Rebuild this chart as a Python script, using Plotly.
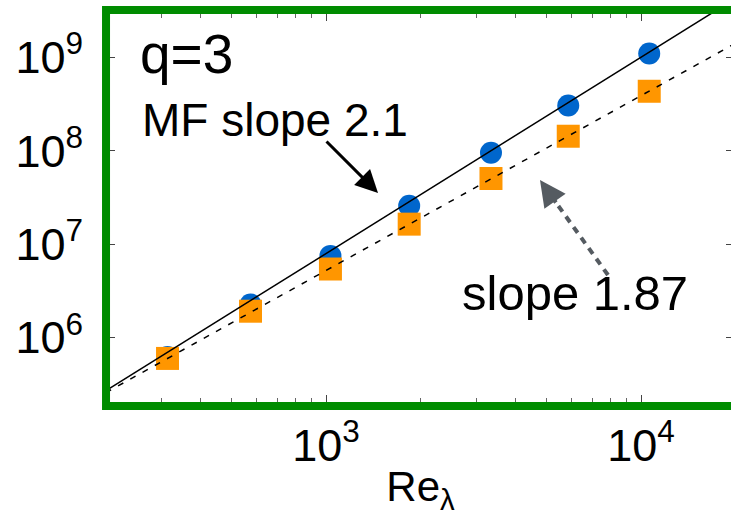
import plotly.graph_objects as go

# ---- data ----
re_lambda = [314, 576, 1033, 1837, 3340, 5875, 10620]
mf_values = [6.2e5, 2.27e6, 7.5e6, 2.58e7, 9.5e7, 3.05e8, 1.10e9]       # blue circles
dns_values = [6.0e5, 1.92e6, 5.43e6, 1.64e7, 5.05e7, 1.43e8, 4.33e8]    # orange squares

fit_x = [200, 20000]
mf_fit = [2.70e5, 4.29e9]      # MF slope 2.1
dns_fit = [2.58e5, 1.42e9]     # slope 1.87

x_tickvals = [1e3, 1e4]
x_ticktext = ["10<sup>3</sup>", "10<sup>4</sup>"]
y_tickvals = [1e6, 1e7, 1e8, 1e9]
y_ticktext = ["10<sup>6</sup>", "10<sup>7</sup>", "10<sup>8</sup>", "10<sup>9</sup>"]

FONT = "Liberation Sans, Arial, Helvetica, sans-serif"
GREEN = "#008C00"

fig = go.Figure()
fig.add_trace(go.Scatter(x=re_lambda, y=mf_values, mode="markers",
                         marker=dict(symbol="circle", size=22, color="#0066CC", line=dict(width=0)),
                         showlegend=False))
fig.add_trace(go.Scatter(x=re_lambda, y=dns_values, mode="markers",
                         marker=dict(symbol="square", size=23, color="#FF9600", line=dict(width=0)),
                         showlegend=False))
fig.add_trace(go.Scatter(x=fit_x, y=mf_fit, mode="lines",
                         line=dict(color="black", width=1.5), showlegend=False))
fig.add_trace(go.Scatter(x=fit_x, y=dns_fit, mode="lines",
                         line=dict(color="black", width=1.5, dash="6px,8px"), showlegend=False))

fig.update_layout(
    width=731, height=516,
    margin=dict(l=110, r=0, t=14, b=114),
    paper_bgcolor="white", plot_bgcolor="white",
    font=dict(family=FONT, color="black", size=45),
    xaxis=dict(type="log", range=[2.3143, 4.2857], showgrid=False, zeroline=False,
               showline=False, tickvals=x_tickvals, ticktext=x_ticktext, automargin=False,
               ticks="inside", ticklen=7, tickcolor="#444", tickwidth=1,
               mirror="ticks", ticklabelstandoff=13,
               minor=dict(ticks="inside", ticklen=4, dtick="D1", tickcolor="#666", showgrid=False),
               title=dict(text="Re<sub>λ</sub>", font=dict(size=42), standoff=4)),
    yaxis=dict(type="log", range=[5.312, 9.463], showgrid=False, zeroline=False,
               showline=False, tickvals=y_tickvals, ticktext=y_ticktext, automargin=False,
               ticks="inside", ticklen=5, tickcolor="#444", tickwidth=1,
               mirror="ticks", ticklabelstandoff=26),
)

fig.add_shape(type="rect", xref="paper", yref="paper",
              x0=-0.0064, x1=1.03, y0=-0.0103, y1=1.0103,
              line=dict(color=GREEN, width=8), fillcolor="rgba(0,0,0,0)", layer="above")

fig.add_annotation(xref="paper", yref="paper", x=0.1235, y=0.898, text="q=3",
                   showarrow=False, font=dict(size=55), xanchor="center", yanchor="middle")
fig.add_annotation(xref="paper", yref="paper", x=0.2657, y=0.7268, text="MF slope 2.1",
                   showarrow=False, font=dict(size=46), xanchor="center", yanchor="middle")
fig.add_annotation(xref="paper", yref="paper", x=0.7488, y=0.2809, text="slope 1.87",
                   showarrow=False, font=dict(size=49), xanchor="center", yanchor="middle")

# black arrow
fig.add_annotation(xref="paper", yref="paper", x=0.4316, y=0.5387, text="",
                   showarrow=True, ax=-53, ay=-53, arrowhead=2, arrowsize=1.5,
                   arrowwidth=3, arrowcolor="black", standoff=0)
# grey dashed arrow: dashed shaft + arrow head
fig.add_shape(type="line", xref="paper", yref="paper",
              x0=0.8019, y0=0.3273, x1=0.7198, y1=0.5103,
              line=dict(color="#555B61", width=4, dash="7px,6px"))
fig.add_annotation(xref="paper", yref="paper", x=0.6924, y=0.5722, text="",
                   showarrow=True, ax=17, ay=24, arrowhead=2, arrowsize=1.3,
                   arrowwidth=4, arrowcolor="#555B61", standoff=0)

fig.write_html("out.html")
